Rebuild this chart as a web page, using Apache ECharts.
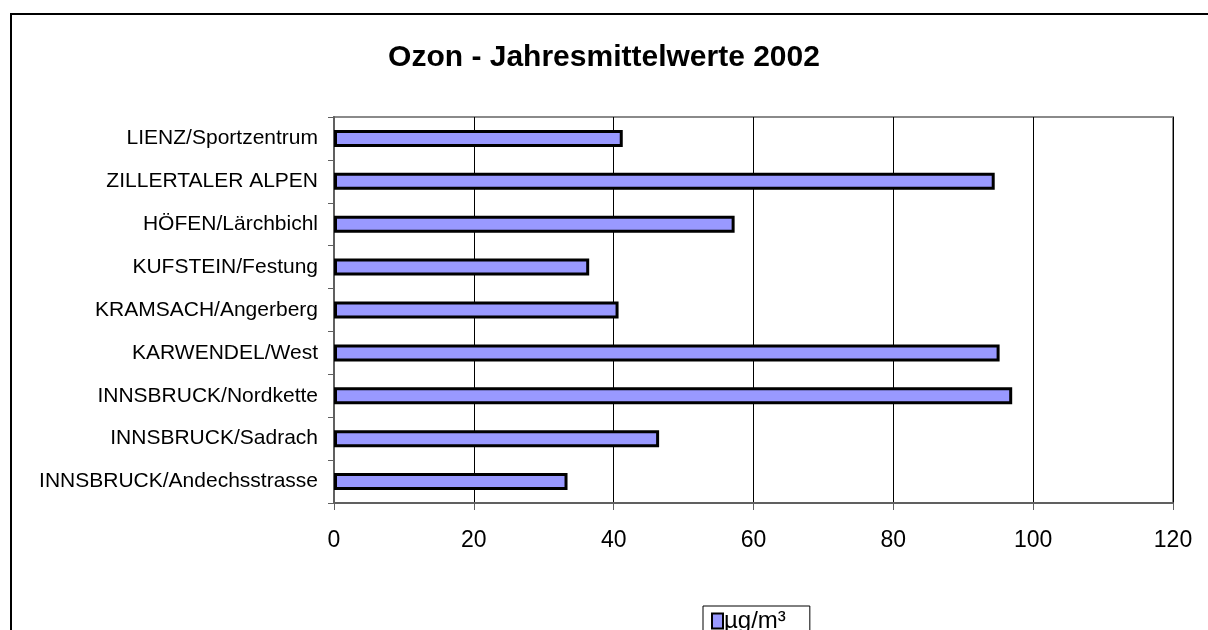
<!DOCTYPE html>
<html>
<head>
<meta charset="utf-8">
<script src="https://cdn.jsdelivr.net/npm/echarts@6/dist/echarts.min.js"></script>
<style>
  html, body { margin: 0; padding: 0; background: #fff; }
  #chart { width: 1208px; height: 630px; }
</style>
</head>
<body>
<div id="chart"></div>
<script>
// stations, bottom to top as drawn
const stations = [
  "INNSBRUCK/Andechsstrasse",
  "INNSBRUCK/Sadrach",
  "INNSBRUCK/Nordkette",
  "KARWENDEL/West",
  "KRAMSACH/Angerberg",
  "KUFSTEIN/Festung",
  "HÖFEN/Lärchbichl",
  "ZILLERTALER ALPEN",
  "LIENZ/Sportzentrum",
];
const ozone = [33.4, 46.5, 97.0, 95.2, 40.7, 36.5, 57.3, 94.5, 41.3];
const xTicks = [0, 20, 40, 60, 80, 100, 120];
const seriesName = "µg/m³";

const font = "'Liberation Sans', Arial, sans-serif";
const chart = echarts.init(document.getElementById("chart"));

const option = {
  animation: false,
  backgroundColor: "#fff",
  title: {
    text: "Ozon - Jahresmittelwerte 2002",
    left: "center",
    top: 38,
    textStyle: { fontFamily: font, fontSize: 30, fontWeight: "bold", color: "#000" },
  },
  graphic: [
    {
      type: "rect",
      shape: { x: 11, y: 14, width: 1260, height: 700 },
      style: { fill: "none", stroke: "#000", lineWidth: 2 },
      silent: true,
    },
  ],
  legend: {
    data: [seriesName],
    icon: "rect",
    left: 703,
    top: 606,
    padding: [3, 24, 3, 8],
    itemGap: 6,
    itemWidth: 11,
    itemHeight: 15,
    borderColor: "#000",
    borderWidth: 1,
    textStyle: { fontFamily: font, fontSize: 24, color: "#000", padding: [0, 0, 0, -4] },
  },
  grid: {
    left: 334,
    right: 35,
    top: 117,
    bottom: 127,
    show: true,
    borderColor: "#8a8a8a",
    borderWidth: 2,
  },
  xAxis: {
    type: "value",
    min: xTicks[0],
    max: xTicks[xTicks.length - 1],
    interval: 20,
    axisLine: { show: true, lineStyle: { color: "#606060", width: 2 } },
    axisTick: { show: true, length: 7, lineStyle: { color: "#606060" } },
    axisLabel: { margin: 26, fontFamily: font, fontSize: 23, color: "#000" },
    splitLine: { show: true, lineStyle: { color: "#000", width: 1 } },
  },
  yAxis: {
    type: "category",
    data: stations,
    axisLine: { show: true, lineStyle: { color: "#606060", width: 2 } },
    axisTick: { show: true, length: 6, lineStyle: { color: "#606060" } },
    axisLabel: { margin: 16, fontFamily: font, fontSize: 21, color: "#000" },
    splitLine: { show: false },
  },
  series: [
    {
      name: seriesName,
      type: "bar",
      data: ozone,
      barWidth: 17,
      itemStyle: { color: "#9999ff", borderColor: "#000", borderWidth: 3 },
    },
  ],
};

chart.setOption(option);
</script>
</body>
</html>
